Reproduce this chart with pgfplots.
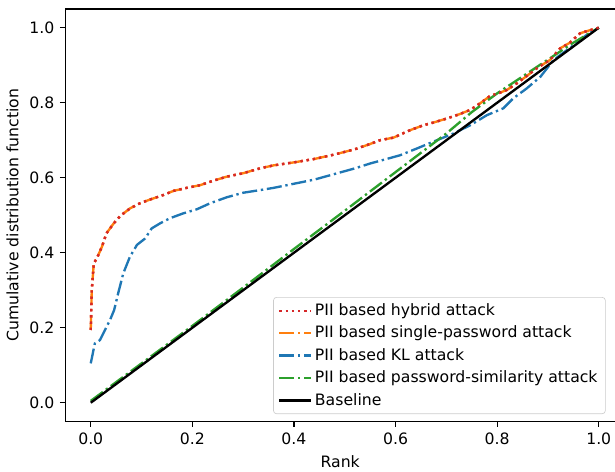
\documentclass[border=0pt]{standalone}
\usepackage{fontspec}
\setmainfont{DejaVu Sans}
\usepackage{pgfplots}
\pgfplotsset{compat=1.18}

\definecolor{tabblue}{HTML}{1F77B4}
\definecolor{taborange}{HTML}{FF7F0E}
\definecolor{tabgreen}{HTML}{2CA02C}
\definecolor{tabred}{HTML}{D62728}

\tikzset{
  mpldashdot/.style={line width=1.5pt, dash pattern=on 9.6pt off 2.4pt on 1.5pt off 2.4pt},
  mpldotted/.style={line width=1.5pt, dash pattern=on 1.5pt off 2.475pt},
}

% hybrid and single-password curves (nearly identical)
\pgfplotstableread{
x y
0.000 0.194
0.002 0.300
0.006 0.372
0.012 0.385
0.022 0.416
0.031 0.452
0.045 0.478
0.058 0.498
0.077 0.518
0.097 0.532
0.117 0.542
0.143 0.554
0.163 0.565
0.189 0.573
0.215 0.580
0.241 0.592
0.268 0.603
0.300 0.612
0.333 0.625
0.360 0.633
0.400 0.641
0.440 0.650
0.480 0.662
0.520 0.676
0.550 0.690
0.569 0.700
0.596 0.707
0.629 0.727
0.655 0.740
0.674 0.747
0.701 0.758
0.727 0.770
0.747 0.781
0.766 0.798
0.786 0.818
0.802 0.825
0.819 0.834
0.839 0.852
0.858 0.871
0.878 0.892
0.904 0.914
0.924 0.945
0.943 0.960
0.963 0.985
0.979 0.992
1.000 1.000
}\hybrid

\pgfplotstableread{
x y
0.000 0.105
0.008 0.158
0.018 0.167
0.028 0.194
0.038 0.221
0.046 0.247
0.054 0.292
0.064 0.345
0.077 0.389
0.091 0.421
0.107 0.438
0.120 0.465
0.136 0.478
0.156 0.492
0.182 0.505
0.209 0.516
0.235 0.532
0.268 0.548
0.300 0.560
0.333 0.567
0.360 0.573
0.400 0.584
0.440 0.595
0.480 0.610
0.520 0.625
0.550 0.638
0.569 0.645
0.609 0.660
0.642 0.678
0.674 0.696
0.714 0.718
0.747 0.740
0.780 0.767
0.812 0.785
0.832 0.812
0.858 0.838
0.885 0.869
0.911 0.914
0.957 0.960
0.980 0.985
1.000 1.000
}\kl

\pgfplotstableread{
x y
0.000 0.005
0.100 0.105
0.200 0.205
0.300 0.307
0.400 0.410
0.500 0.512
0.600 0.615
0.700 0.718
0.750 0.775
0.800 0.825
0.850 0.870
0.900 0.915
0.950 0.960
1.000 1.000
}\simil

\begin{document}
\begin{tikzpicture}
\begin{axis}[
    name=ax,
    scale only axis,
    width=350.7pt,
    height=263.2pt,
    xmin=-0.05, xmax=1.032,
    ymin=-0.05, ymax=1.05,
    axis x line=box,
    axis y line=left,
    axis line style={-, line width=0.8pt},
    xtick pos=left,
    tick align=outside,
    major tick length=3.5pt,
    every tick/.style={line width=0.8pt, black},
    xtick={0,0.2,0.4,0.6,0.8,1.0},
    ytick={0,0.2,0.4,0.6,0.8,1.0},
    xticklabel style={/pgf/number format/.cd, fixed, fixed zerofill, precision=1},
    yticklabel style={/pgf/number format/.cd, fixed, fixed zerofill, precision=1},
    /pgf/number format/assume math mode=true,
    tick label style={font=\fontsize{10}{12}\selectfont},
    label style={font=\fontsize{10}{12}\selectfont},
    xlabel={Rank},
    ylabel={Cumulative distribution function},
    legend cell align=left,
    legend style={
        at={(axis description cs:0.983,0.018)}, anchor=south east,
        font=\fontsize{10}{12}\selectfont,
        draw=black!20, rounded corners=2pt, fill=white, fill opacity=0.8, text opacity=1,
        row sep=1.2pt, inner xsep=3pt, inner ysep=2pt,
    },
    legend image code/.code={\draw[#1] (0pt,0pt) -- (20pt,0pt);},
]
\addplot[tabred, mpldotted] table[x=x,y=y] {\hybrid};
\addlegendentry{PII based hybrid attack}
\addplot[taborange, mpldashdot] table[x=x,y=y] {\hybrid};
\addlegendentry{PII based single-password attack}
\addplot[tabblue, mpldashdot] table[x=x,y=y] {\kl};
\addlegendentry{PII based KL attack}
\addplot[tabgreen, mpldashdot] table[x=x,y=y] {\simil};
\addlegendentry{PII based password-similarity attack}
\addplot[black, line width=1.5pt] coordinates {(0,0) (1,1)};
\addlegendentry{Baseline}
\addplot[tabred, mpldotted, forget plot] table[x=x,y=y] {\hybrid};
\end{axis}
\pgfresetboundingbox
\path ([xshift=-41.7pt,yshift=-32.2pt]ax.south west) rectangle ([yshift=5.74pt]ax.north east);
\end{tikzpicture}
\end{document}
